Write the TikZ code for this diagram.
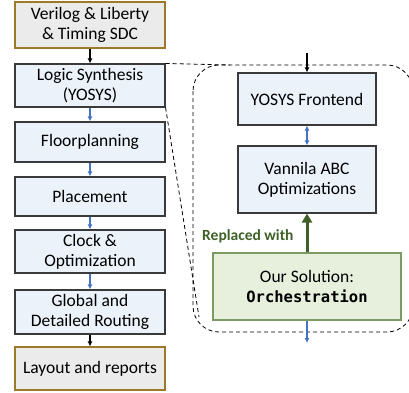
\documentclass[tikz,border=0pt]{standalone}
\usepackage{fontspec}
\setmainfont{Carlito}
\setmonofont{DejaVu Sans Mono}
\usetikzlibrary{arrows.meta}
\definecolor{bluefill}{HTML}{EBF2FA}
\definecolor{boxline}{HTML}{3A3A3A}
\definecolor{grayfill}{HTML}{EBEBEB}
\definecolor{goldline}{HTML}{9C7A2A}
\definecolor{greenfill}{HTML}{E6F0DC}
\definecolor{greenline}{HTML}{7E9A64}
\definecolor{darkgreen}{HTML}{3F6128}
\definecolor{arrowblue}{HTML}{4472C4}
\tikzset{
  boxtext/.style={align=center, inner sep=0pt, line width=1.1pt, font=\fontsize{17.5}{20}\selectfont},
  stage/.style={boxtext, draw=boxline, fill=bluefill},
  iobox/.style={boxtext, draw=goldline, fill=grayfill},
  solbox/.style={boxtext, draw=greenline, fill=greenfill},
  blackarr/.style={line width=1.1pt, -{Latex[length=5pt,width=5pt]}},
  bluearr/.style={line width=1.1pt, draw=arrowblue, -{Latex[length=5pt,width=5pt]}},
  bluedbl/.style={line width=1.1pt, draw=arrowblue, {Latex[length=5pt,width=5pt]}-{Latex[length=5pt,width=5pt]}},
  greenarr/.style={line width=3pt, draw=darkgreen, -{Triangle[length=9pt,width=10pt]}},
  zoomline/.style={line width=0.8pt, dash pattern=on 4pt off 3pt},
}
\begin{document}
\begin{tikzpicture}[x=1pt,y=-1pt]
\useasboundingbox (0,0) rectangle (409,392);
% left column
\node[iobox, minimum width=150pt, minimum height=46pt] (in) at (90,25) {Verilog \& Liberty\\\& Timing SDC};
\node[stage, minimum width=150pt, minimum height=43pt] (ls) at (90,85.5) {Logic Synthesis\\(YOSYS)};
\node[stage, minimum width=150pt, minimum height=40pt] (fp) at (90,142) {Floorplanning};
\node[stage, minimum width=150pt, minimum height=39pt] (pl) at (90,196.5) {Placement};
\node[stage, minimum width=150pt, minimum height=43pt] (ck) at (90,251.5) {Clock \&\\Optimization};
\node[stage, minimum width=150pt, minimum height=44pt] (gr) at (90,312) {Global and\\Detailed Routing};
\node[iobox, minimum width=150pt, minimum height=43pt] (lo) at (90,368.5) {Layout and reports};
\draw[blackarr] (in) -- (ls);
\draw[bluearr] (ls) -- (fp);
\draw[bluearr] (fp) -- (pl);
\draw[bluearr] (pl) -- (ck);
\draw[bluearr] (ck) -- (gr);
\draw[blackarr] (gr) -- (lo);
% zoom region
\draw[zoomline, rounded corners=26pt] (193,65) rectangle (413,332);
\coordinate (regtl) at (230,65);
\coordinate (regbl) at (199,317);
\draw[zoomline] (ls.north east) -- (regtl);
\draw[zoomline] (ls.south east) -- (regbl);
% right nodes
\node[stage, minimum width=138pt, minimum height=52pt] (yf) at (307,99) {YOSYS Frontend};
\node[stage, minimum width=138pt, minimum height=67pt] (abc) at (307,179.5) {Vannila ABC\\Optimizations};
\node[solbox, minimum width=188pt, minimum height=67pt] (sol) at (307,286.5) {Our Solution:\\\fontsize{15.5}{20}\selectfont\texttt{\bfseries Orchestration}};
\coordinate (topin) at (307,53);
\coordinate (botout) at (307,343);
\draw[blackarr] (topin) -- (yf);
\draw[bluedbl] (yf) -- (abc);
\draw[greenarr] (sol) -- (abc);
\draw[bluearr] (sol) -- (botout);
\node[text=darkgreen, font=\fontsize{15.5}{18}\selectfont\bfseries, anchor=east] (rep) at (297,236) {Replaced with};
\end{tikzpicture}
\end{document}
